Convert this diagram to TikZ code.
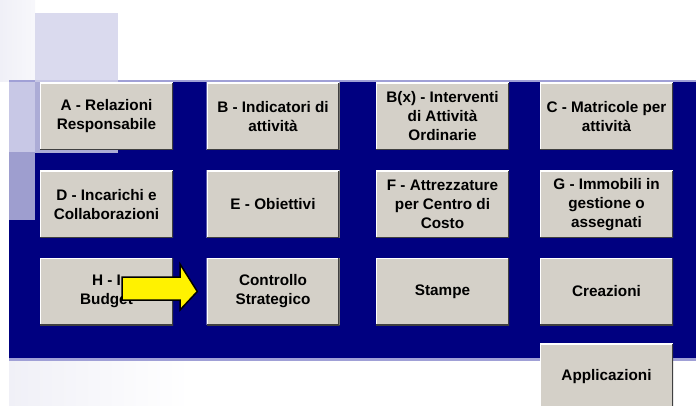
\documentclass[tikz,border=0pt]{standalone}
\usepackage{fontspec}
\setmainfont{Liberation Sans}
\definecolor{bandblue}{HTML}{000080}
\definecolor{btnface}{HTML}{D4D0C8}
\definecolor{btndark}{HTML}{404040}
\definecolor{lav1}{HTML}{C8C8E6}
\definecolor{lav2}{HTML}{9E9ECF}
\definecolor{lav3}{HTML}{D2D2EA}
\definecolor{lavline}{HTML}{A0A0D6}
\definecolor{topfade}{HTML}{F0F0F7}
\tikzset{
  btn/.style={fill=btnface, minimum width=133, minimum height=67, inner sep=2pt,
    align=center, text=black,
    font=\bfseries\fontsize{15.3}{19}\selectfont,
    path picture={
      \draw[white,line width=2pt] (path picture bounding box.south west) |- (path picture bounding box.north east);
      \draw[btndark,line width=2.6pt] (path picture bounding box.south west) -| (path picture bounding box.north east);
    }},
  focusbtn/.style={btn, append after command={
      \pgfextra{\draw[gray, dotted, line width=0.8pt]
        ([shift={(2.5pt,-2.5pt)}]\tikzlastnode.north west) rectangle ([shift={(-2.5pt,2.5pt)}]\tikzlastnode.south east);}}},
  bigarrow/.style={fill=yellow, draw=black, line width=1.5pt, line join=miter}
}
\begin{document}
\begin{tikzpicture}[x=1pt,y=-1pt]
\useasboundingbox (0,0) rectangle (696,406);
\clip (0,0) rectangle (696,406);
% top-left fade
\shade[left color=topfade, right color=topfade!50!white] (0,0) rectangle (35,82);
% band
\fill[bandblue] (9,82) rectangle (696,358);
\fill[lavline] (9,80.5) rectangle (696,82);
\fill[lavline] (9,358) rectangle (696,361);
% bottom fade
\shade[left color=topfade, right color=white] (9,361) rectangle (190,406);
% decorative squares
\fill[lav3, opacity=0.82] (35,13) rectangle (118,153);
\fill[lav1] (9,82) rectangle (35,152);
\fill[lav2] (9,152) rectangle (35,220);
% buttons
\node[btn] (a) at (106.5,116.5) {A - Relazioni\\Responsabile};
\node[focusbtn] (b) at (273,116.5) {B - Indicatori di\\attività};
\node[btn] (bx) at (442.5,116.5) {B(x) - Interventi\\di Attività\\Ordinarie};
\node[btn] (c) at (606.5,116.5) {C - Matricole per\\attività};
\node[btn] (d) at (106.5,204.5) {D - Incarichi e\\Collaborazioni};
\node[btn] (e) at (273,204.5) {E - Obiettivi};
\node[btn] (f) at (442.5,204.5) {F - Attrezzature\\per Centro di\\Costo};
\node[btn] (g) at (606.5,204.5) {G - Immobili in\\gestione o\\assegnati};
\node[btn] (h) at (106.5,291.5) {H - I\\Budget};
\node[btn] (cs) at (273,291.5) {Controllo\\Strategico};
\node[btn] (st) at (442.5,291.5) {Stampe};
\node[btn] (cr) at (606.5,291.5) {Creazioni};
\node[btn] (ap) at (606.5,377) {Applicazioni};
% arrow
\coordinate (arrtip) at ([xshift=-9pt]cs.west);
\draw[bigarrow] (122,277) -- (180,277) -- (180,264) -- (arrtip) -- (180,310) -- (180,300) -- (122,300) -- cycle;
\end{tikzpicture}
\end{document}
